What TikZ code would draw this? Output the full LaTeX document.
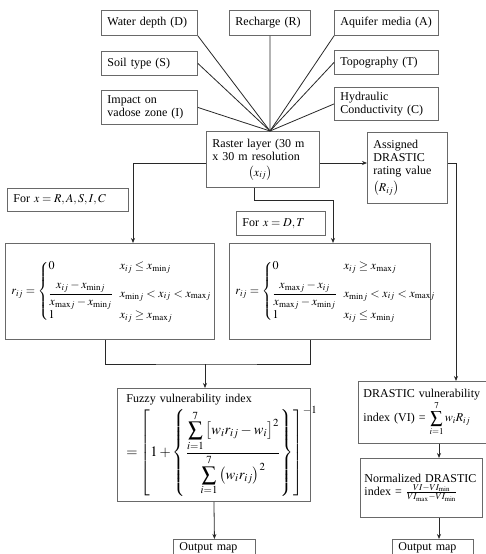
\documentclass[tikz,border=0pt]{standalone}
\usepackage{amsmath}
\usepackage{graphicx}
\usepackage{mathptmx}
\usepackage[no-math]{fontspec}
\setmainfont{Liberation Serif}
\usetikzlibrary{arrows.meta,positioning,calc}
\definecolor{boxgray}{RGB}{105,105,105}
\definecolor{wiregray}{RGB}{40,40,40}
\newcommand{\rcases}[1]{\left\{\begin{array}{@{}l@{\hspace{7pt}}l@{}}#1\end{array}\right.}
\newcommand{\xmin}{x_{\min\!j}}
\newcommand{\xmax}{x_{\max\!j}}

\begin{document}
\begin{tikzpicture}[x=1pt, y=-1pt,
  box/.style={draw=boxgray, line width=0.9pt, anchor=north west,
    inner xsep=6pt, inner ysep=3pt, align=left,
    font=\fontsize{12}{13}\selectfont,
    execute at begin node={\hyphenpenalty=10000\relax}},
  wire/.style={draw=wiregray, line width=0.8pt},
  arr/.style={wire, -{Stealth[length=5pt, width=4pt]}}]
\path[fill=white, use as bounding box] (0,0) rectangle (486,554);

% the seven DRASTIC layers
\node[box, text width=84pt, minimum height=25pt] (wd) at (101,10) {Water depth (D)};
\node[box, text width=69pt, minimum height=25pt] (rc) at (229,10) {Recharge (R)};
\node[box, text width=92pt, minimum height=25pt] (aq) at (334,10) {Aquifer media (A)};
\node[box, text width=84pt, minimum height=24pt] (st) at (101,51) {Soil type (S)};
\node[box, text width=92pt, minimum height=24pt] (tp) at (334,50) {Topography (T)};
\node[box, text width=84pt, minimum height=34pt] (iv) at (101,90)
  {Impact on\\vadose zone (I)};
\node[box, text width=92pt, minimum height=33pt] (hc) at (334,87)
  {Hydraulic\\Conductivity (C)};

% raster and rating
\node[box, text width=101pt, minimum height=56pt] (ras) at (206,131)
  {Raster layer (30 m\\x 30 m resolution\\[3pt]\hspace*{36pt}$\left(x_{ij}\right)$};
\node[box, text width=68pt, minimum height=71pt] (asg) at (367,132)
  {Assigned\\DRASTIC\\rating value\\[4pt]$\left(R_{ij}\right)$};

\node[box, text width=109pt, minimum height=23pt] (forA) at (7,188) {For $x=R,A,S,I,C$};
\node[box, text width=77pt, minimum height=24pt] (forB) at (236,211) {For $x=D,T$};

% membership functions
\node[box, inner xsep=6pt, text width=197pt, minimum height=96pt] (f1) at (5,243)
  {\mbox{$r_{ij}=\rcases{0 & x_{ij}\le \xmin\\[8pt]
   \dfrac{x_{ij}-\xmin}{\xmax-\xmin} & \xmin<x_{ij}<\xmax\\[8pt]
   1 & x_{ij}\ge \xmax}$}};
\node[box, inner xsep=6pt, text width=189pt, minimum height=96pt] (f2) at (229,243)
  {\mbox{$r_{ij}=\rcases{0 & x_{ij}\ge \xmax\\[8pt]
   \dfrac{\xmax-x_{ij}}{\xmax-\xmin} & \xmin<x_{ij}<\xmax\\[8pt]
   1 & x_{ij}\le \xmin}$}};

% indices
\node[box, inner xsep=9pt, text width=175pt, minimum height=113pt] (fz) at (117,388)
  {Fuzzy vulnerability index\\[1pt]
   \scalebox{1.2}{$\displaystyle=\left[1+\left\{\frac{\displaystyle\sum_{i=1}^{7}\left[w_i r_{ij}-w_i\right]^2}
   {\displaystyle\sum_{i=1}^{7}\left(w_i r_{ij}\right)^2}\right\}\right]^{-1}$}};
\node[box, inner xsep=5pt, text width=120pt, minimum height=62pt] (dr) at (358,381)
  {DRASTIC vulnerability\\index (VI) = $\displaystyle\sum_{i=1}^{7} w_i R_{ij}$};
\node[box, inner xsep=4pt, text width=114pt, minimum height=59pt] (nz) at (360,458)
  {Normalized DRASTIC\\index = $\frac{VI-VI_{\min}}{VI_{\max}-VI_{\min}}$};

\node[box, text width=70pt] (out1) at (173,539) {Output map};
\node[box, text width=69pt] (out2) at (392,539) {Output map};

% connectors
\coordinate (hub) at (270,131);
\foreach \a in {wd.south east, rc.south, aq.south west, st.east, tp.west, iv.east, hc.west}
  \draw[wire] (\a) -- (hub);

\coordinate (mid) at (0,163);
\coordinate (lcol) at (133,0);
\coordinate (rb) at (254,200);
\coordinate (rcol) at (333,0);
\coordinate (scol) at (456,0);
\coordinate (tcol) at (439,0);
\coordinate (lb) at (105,0);
\coordinate (rb2) at (310,0);
\coordinate (mg) at (205,364);

\draw[arr] (ras.east |- mid) -- (asg.west |- mid);
\draw[arr] (ras.west |- mid) -| (lcol |- f1.north);
\draw[arr] (ras.south -| rb) -- (rb) -| (rcol |- f2.north);
\draw[arr] (asg.east |- mid) -| (scol |- dr.north);

\draw[wire] (f1.south -| lb) |- (mg) -| (f2.south -| rb2);
\draw[arr] (mg) -- (mg |- fz.north);
\draw[arr] (fz.south) -- (out1.north);

\draw[arr] (dr.south -| tcol) -- (nz.north -| tcol);
\draw[arr] (nz.south -| tcol) -- (out2.north -| tcol);
\end{tikzpicture}
\end{document}
